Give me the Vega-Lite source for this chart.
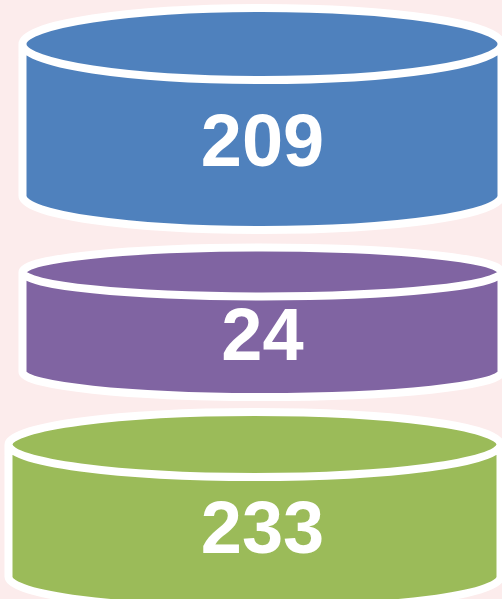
{
  "$schema": "https://vega.github.io/schema/vega-lite/v6.json",
  "width": 502,
  "height": 599,
  "autosize": {"type": "fit", "contains": "padding"},
  "padding": 0,
  "background": "#fcecec",
  "config": {"view": {"stroke": null}},
  "data": {
    "values": [
      {"item": "Top", "value": 209},
      {"item": "Middle", "value": 24},
      {"item": "Bottom", "value": 233}
    ]
  },
  "encoding": {
    "y": {
      "field": "item",
      "type": "nominal",
      "sort": ["Top", "Middle", "Bottom"],
      "scale": {"type": "point", "range": [140, 527], "padding": 0},
      "axis": null
    }
  },
  "layer": [
    {
      "mark": {
        "type": "point",
        "filled": true,
        "opacity": 1,
        "size": 4,
        "stroke": "white",
        "strokeWidth": 8,
        "strokeJoin": "round"
      },
      "encoding": {
        "color": {
          "field": "item",
          "type": "nominal",
          "scale": {"domain": ["Top", "Middle", "Bottom"], "range": ["#4f81bd", "#8064a2", "#9bbb59"]},
          "legend": null
        },
        "shape": {
          "field": "item",
          "type": "nominal",
          "scale": {
            "domain": ["Top", "Middle", "Bottom"],
            "range": [
              "M-225,-96 C-225,-115.88 -117.78,-132 14.5,-132 C146.78,-132 254,-115.88 254,-96 L254,56 C254,74.78 146.78,90 14.5,90 C-117.78,90 -225,74.78 -225,56 Z M254,-96 C254,-76.12 146.78,-60 14.5,-60 C-117.78,-60 -225,-76.12 -225,-96",
              "M-225,-61.5 C-225,-75.03 -117.78,-86 14.5,-86 C146.78,-86 254,-75.03 254,-61.5 L254,38.5 C254,52.31 146.78,63.5 14.5,63.5 C-117.78,63.5 -225,52.31 -225,38.5 Z M254,-61.5 C254,-47.97 146.78,-37 14.5,-37 C-117.78,-37 -225,-47.97 -225,-61.5",
              "M-239,-82.5 C-239,-100.45 -128.87,-115 7,-115 C142.87,-115 253,-100.45 253,-82.5 L253,50 C253,67.67 142.87,82 7,82 C-128.87,82 -239,67.67 -239,50 Z M253,-82.5 C253,-64.55 142.87,-50 7,-50 C-128.87,-50 -239,-64.55 -239,-82.5"
            ]
          },
          "legend": null
        }
      }
    },
    {
      "mark": {
        "type": "text",
        "color": "white",
        "font": "Liberation Sans",
        "fontSize": 74,
        "fontWeight": "bold",
        "baseline": "alphabetic",
        "dx": 15,
        "dy": 26
      },
      "encoding": {
        "text": {"field": "value", "type": "quantitative"}
      }
    }
  ]
}
